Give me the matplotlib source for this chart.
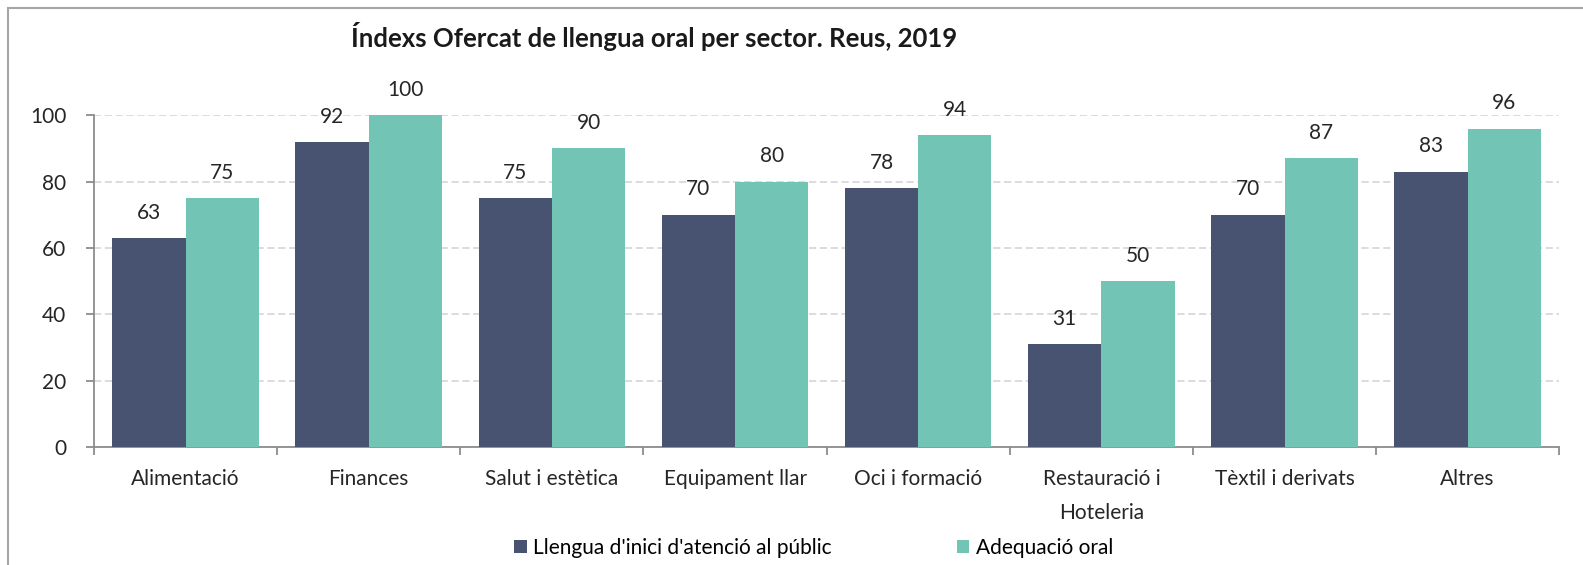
import numpy as np
import matplotlib
matplotlib.use('Agg')
import matplotlib.pyplot as plt
from matplotlib.patches import Rectangle

plt.rcParams['font.family'] = ['Lato', 'DejaVu Sans']

# data
sectors = ['Alimentació', 'Finances', 'Salut i estètica', 'Equipament llar',
           'Oci i formació', 'Restauració i\nHoteleria', 'Tèxtil i derivats', 'Altres']
llengua_inici = [63, 92, 75, 70, 78, 31, 70, 83]
adequacio_oral = [75, 100, 90, 80, 94, 50, 87, 96]
series_names = ["Llengua d'inici d'atenció al públic", 'Adequació oral']

dark = '#475370'
teal = '#72C4B4'

fig = plt.figure(figsize=(15.83, 5.65), dpi=100)
ax = fig.add_axes([0.0594, 0.209, 0.9256, 0.587])

x = np.arange(len(sectors))
w = 0.4
b1 = ax.bar(x - w/2, llengua_inici, w, color=dark, label=series_names[0], zorder=3)
b2 = ax.bar(x + w/2, adequacio_oral, w, color=teal, label=series_names[1], zorder=3)

for bars in (b1, b2):
    ax.bar_label(bars, padding=11, fontsize=15, color='#262626')

ax.set_xlim(-0.5, len(sectors) - 0.5)
ax.set_ylim(0, 100)
ax.set_yticks(range(0, 101, 20))
ax.yaxis.grid(True, linestyle=(0, (4, 2)), color='#D9D9D9', linewidth=1.3, zorder=0)
ax.set_axisbelow(True)

ax.set_xticks(x)
ax.set_xticklabels(sectors, fontsize=15, color='#262626', linespacing=1.85)
ax.set_xticks(np.arange(-0.5, len(sectors)), minor=True)
ax.tick_params(axis='x', which='major', length=0, pad=16)
ax.tick_params(axis='x', which='minor', length=6, color='#8C8C8C', width=1.3)
ax.tick_params(axis='y', labelsize=15, labelcolor='#262626', length=6,
               color='#8C8C8C', width=1.3, pad=14)

for s in ['top', 'right']:
    ax.spines[s].set_visible(False)
for s in ['left', 'bottom']:
    ax.spines[s].set_color('#8C8C8C')
    ax.spines[s].set_linewidth(1.3)

fig.text(0.413, 0.935, 'Índexs Ofercat de llengua oral per sector. Reus, 2019',
         ha='center', va='center', fontsize=18.5, fontweight='bold', color='#1a1a1a')

fig.legend(handles=[b1, b2], labels=series_names, loc='center',
           bbox_to_anchor=(0.514, 0.03), ncol=2, frameon=False, fontsize=15,
           handlelength=0.6, handleheight=0.6, handletextpad=0.3, columnspacing=6.0)

# chart border (Excel frame, partly cropped)
fig.patches.append(Rectangle((0.005, -0.05), 1.2, 1.035, transform=fig.transFigure,
                             fill=False, edgecolor='#A6A6A6', linewidth=1.5))

fig.savefig('out.png', dpi=100)
